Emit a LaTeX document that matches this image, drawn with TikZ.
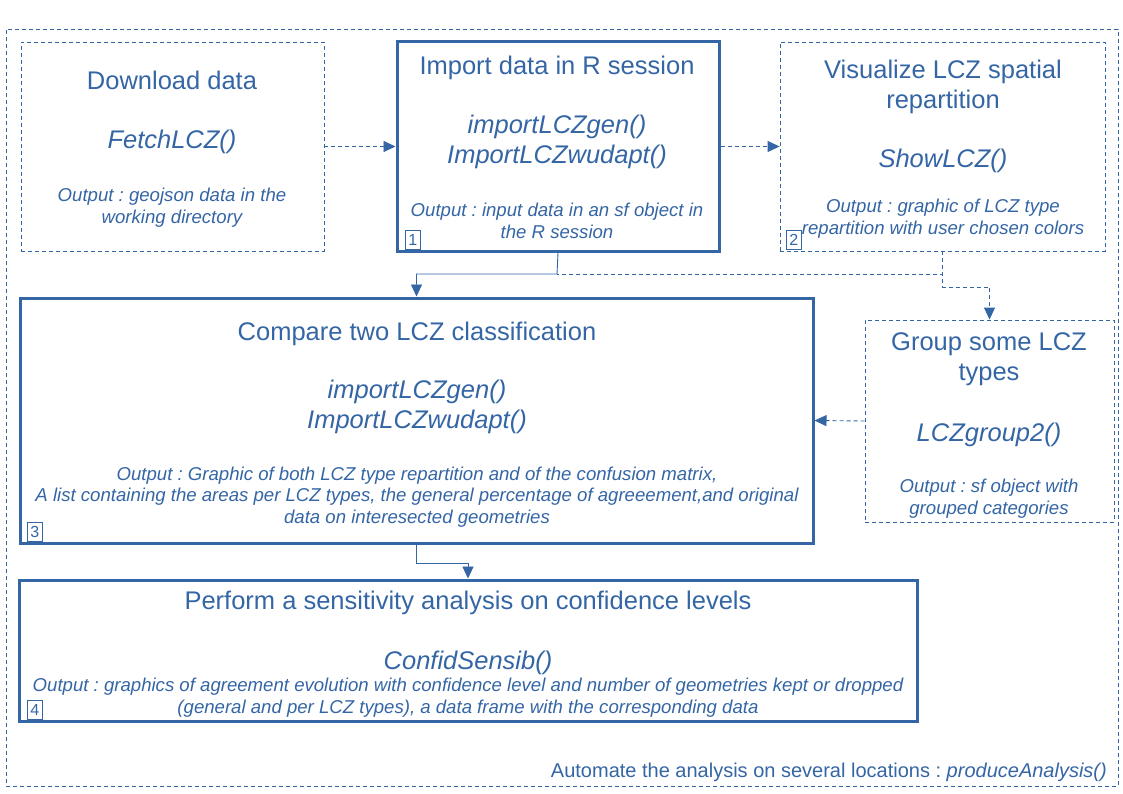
\documentclass[tikz,border=0pt]{standalone}
\usepackage{fontspec}
\setmainfont{Liberation Sans}
\usetikzlibrary{positioning,calc,arrows.meta}
\definecolor{lczblue}{RGB}{52,101,164}
\frenchspacing

\begin{document}
\begin{tikzpicture}[x=1pt,y=-1pt,
	boxdash/.style={draw=lczblue,line width=0.9pt,dash pattern=on 4pt off 3pt,inner sep=0pt},
	boxmain/.style={draw=lczblue,line width=3pt,inner sep=0pt},
	numbox/.style={draw=lczblue,line width=0.6pt,text=lczblue,inner sep=1pt,minimum width=15,minimum height=19,font=\fontsize{16}{17}\selectfont},
	ttl/.style={text=lczblue,inner sep=0pt,anchor=base,align=center,font=\fontsize{25.5}{30}\selectfont},
	fct/.style={text=lczblue,inner sep=0pt,anchor=base,align=center,font=\fontsize{25.5}{30}\selectfont\itshape},
	outp/.style={text=lczblue,inner sep=0pt,anchor=base,align=center,font=\fontsize{18.6}{21.3}\selectfont\itshape},
	conn/.style={draw=lczblue,line width=0.9pt},
	conndash/.style={conn,dash pattern=on 4pt off 3pt},
	tip/.style={-{Triangle[length=12pt,width=11pt]}}]
				\useasboundingbox (0,0) rectangle (1123,794);
				\node[boxdash,minimum width=1112,minimum height=757] (all) at (562,407.5) {};
				% boxes
				\node[boxdash,minimum width=303,minimum height=209] (dl) at (172.5,146.5) {};
				\node[boxmain,minimum width=322,minimum height=209] (imp) at (558,146.5) {};
				\node[boxdash,minimum width=325,minimum height=209] (vis) at (942.5,146.5) {};
				\node[boxmain,minimum width=793,minimum height=245] (cmp) at (416.5,420.5) {};
				\node[boxdash,minimum width=249,minimum height=202] (grp) at (989.5,421) {};
				\node[boxmain,minimum width=898,minimum height=141] (prf) at (468,650.5) {};
				% texts (multi-line nodes sit on their last baseline)
				\node[ttl] (dlT) at (172,90) {Download data};
				\node[fct] (dlF) at (172,149) {FetchLCZ()};
				\node[outp] (dlO) at (172,223) {Output : geojson data in the\\working directory};
				\node[ttl] (impT) at (557,75) {Import data in R session};
				\node[fct] (impF) at (557,164) {importLCZgen()\\ImportLCZwudapt()};
				\node[outp] (impO) at (557,238) {Output : input data in an sf object in\\the R session};
				\node[ttl] (visT) at (943,109) {Visualize LCZ spatial\\repartition};
				\node[fct] (visF) at (943,168) {ShowLCZ()};
				\node[outp] (visO) at (943,234) {Output : graphic of LCZ type\\repartition with user chosen colors};
				\node[ttl] (cmpT) at (417,340) {Compare two LCZ classification};
				\node[fct] (cmpF) at (417,428) {importLCZgen()\\ImportLCZwudapt()};
				\node[outp] (cmpO) at (417,523) {Output : Graphic of both LCZ type repartition and of the confusion matrix,\\ A list containing the areas per LCZ types, the general percentage of agreeement,and original\\data on interesected geometries};
				\node[ttl] (grpT) at (989,380) {Group some LCZ\\types};
				\node[fct] (grpF) at (989,441) {LCZgroup2()};
				\node[outp] (grpO) at (989,514) {Output : sf object with\\grouped categories};
				\node[ttl] (prfT) at (468,609) {Perform a sensitivity analysis on confidence levels};
				\node[fct] (prfF) at (468,669) {ConfidSensib()};
				\node[outp] (prfO) at (468,713) {Output : graphics of agreement evolution with confidence level and number of geometries kept or dropped\\(general and per LCZ types), a data frame with the corresponding data};
				\node[text=lczblue,inner sep=0pt,anchor=base east,font=\fontsize{20}{24}\selectfont] (auto) at (1107,777) {Automate the analysis on several locations : \textit{produceAnalysis()}};
				% step numbers
				\node[numbox,anchor=south west] (n1) at (405,250) {1};
				\node[numbox,anchor=south west] (n2) at (786,250) {2};
				\node[numbox,anchor=south west] (n3) at (27,542) {3};
				\node[numbox,anchor=south west] (n4) at (27,720) {4};
				% connectors
				\coordinate (j1) at (557,274);
				\draw[conndash,tip] (dl.east) -- (imp.west);
				\draw[conndash,tip] (imp.east) -- (vis.west);
				\draw[conndash] (vis.south) |- (j1);
				\draw[conndash,tip] (vis.south) -- ++(0,36) -| (grp.north);
				\draw[conn,tip] (imp.south) -- (j1) -| (cmp.north);
				\draw[conndash,tip] (grp.west) -- (cmp.east);
				\draw[conn,tip] (cmp.south) -- ++(0,19) -| (prf.north);
				\end{tikzpicture}
\end{document}
